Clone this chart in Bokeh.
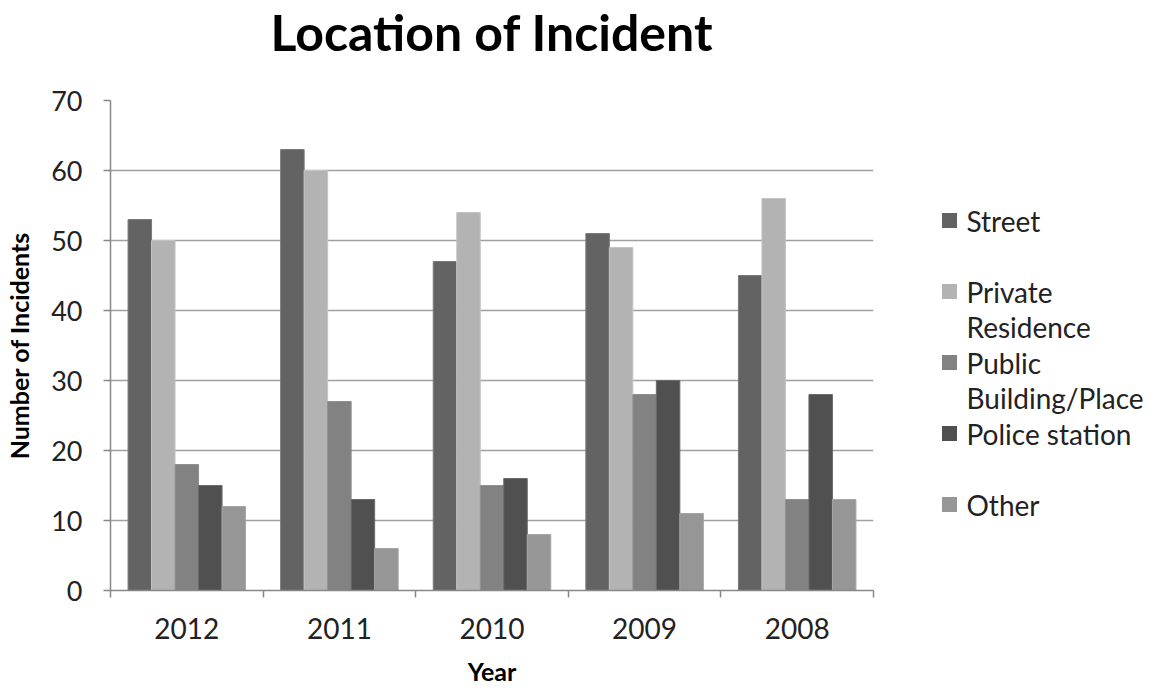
from bokeh.plotting import figure
from bokeh.models import FixedTicker, Range1d, ColumnDataSource
from bokeh.layouts import row, column
from bokeh.embed import file_html
from bokeh.resources import INLINE
from bokeh.core.properties import value

years = ["2012", "2011", "2010", "2009", "2008"]
series = ["Street", "Private\nResidence", "Public\nBuilding/Place", "Police station", "Other"]
street = [53, 63, 47, 51, 45]
private_res = [50, 60, 54, 49, 56]
public_bld = [18, 27, 15, 28, 13]
police = [15, 13, 16, 30, 28]
other = [12, 6, 8, 11, 13]
colors = ["#636363", "#b3b3b3", "#828282", "#505050", "#969696"]
edges = ["#7a7a7a", "#c4c4c4", "#909090", "#6a6a6a", "#a6a6a6"]
y_ticks = [0, 10, 20, 30, 40, 50, 60, 70]
title_text = "Location of Incident"

FONT = "Lato"
all_vals = [street, private_res, public_bld, police, other]

# title strip (page y 0..TH)
TH = 76
tf = figure(width=1161, height=TH, output_backend="svg", toolbar_location=None,
            x_range=Range1d(0, 1161), y_range=Range1d(TH, 0), min_border=0)
tf.axis.visible = False
tf.grid.visible = False
tf.outline_line_color = None
tf.text(x=[491.5], y=[31], text=[title_text], text_font=value(FONT), text_font_size="50px",
        text_font_style="bold", text_color="#000000", text_align="center", text_baseline="middle")

H = 690 - TH
TOP = 100 - TH
BOT = 690 - 590
p = figure(width=890, height=H, output_backend="svg", toolbar_location=None,
           x_range=Range1d(0, len(years)), y_range=Range1d(0, 70),
           min_border_left=110, min_border_right=17, min_border_top=TOP, min_border_bottom=BOT)
p.outline_line_color = None

bw = 0.154
n = len(series)
for i, vals in enumerate(all_vals):
    off = (i - (n - 1) / 2) * bw
    src = ColumnDataSource(dict(x=[k + 0.5 + off for k in range(len(years))], top=vals))
    p.vbar(x="x", top="top", width=bw, bottom=0, source=src,
           fill_color=colors[i], line_color=edges[i], line_width=1)

# axes
p.xaxis.ticker = FixedTicker(ticks=[k + 0.5 for k in range(len(years))],
                             minor_ticks=list(range(len(years) + 1)))
p.xaxis.major_label_overrides = {k + 0.5: y for k, y in enumerate(years)}
p.xaxis.major_tick_out = 0
p.xaxis.major_tick_in = 0
p.xaxis.minor_tick_out = 7
p.xaxis.minor_tick_in = 0
p.xaxis.minor_tick_line_color = "#888888"
p.xaxis.minor_tick_line_width = 1.5
p.xaxis.axis_label = "Year"
p.xaxis.major_label_standoff = 20

p.yaxis.ticker = FixedTicker(ticks=y_ticks)
p.yaxis.major_tick_out = 7
p.yaxis.major_tick_in = 0
p.yaxis.minor_tick_line_color = None
p.yaxis.axis_label = "Number of Incidents"
p.yaxis.major_label_standoff = 21

for ax in [p.xaxis[0], p.yaxis[0]]:
    ax.axis_line_color = "#888888"
    ax.axis_line_width = 1.5
    ax.major_tick_line_color = "#888888"
    ax.major_tick_line_width = 1.5
    ax.major_label_text_font = FONT
    ax.major_label_text_font_size = "28px"
    ax.major_label_text_color = "#222222"
    ax.axis_label_text_font = FONT
    ax.axis_label_text_font_size = "25px"
    ax.axis_label_text_font_style = "bold"
    ax.axis_label_text_color = "#000000"
p.yaxis.major_label_text_font_size = "27px"
p.xaxis.axis_label_standoff = 14
p.yaxis.axis_label_standoff = 14

p.xgrid.grid_line_color = None
p.ygrid.grid_line_color = "#a0a0a0"
p.ygrid.grid_line_width = 1.5

# legend panel: a separate figure whose frame spans page y 100..590
lg = figure(width=271, height=H, output_backend="svg", toolbar_location=None,
            x_range=Range1d(890, 890 + 271), y_range=Range1d(590, 100),
            min_border_left=0, min_border_right=0, min_border_top=TOP, min_border_bottom=BOT)
lg.axis.visible = False
lg.grid.visible = False
lg.outline_line_color = None
spacing = 71
y0 = 220
ys = [y0 + i * spacing for i in range(n)]
lg.rect(x=[949] * n, y=ys, width=15, height=15, fill_color=colors, line_color=None)
first = [s.split("\n")[0] for s in series]
lg.text(x=[966] * n, y=ys, text=first, text_font=value(FONT), text_font_size="28px",
        text_baseline="middle", text_align="left", text_color="#222222")
sec_y = [ys[i] + 35 for i, s in enumerate(series) if "\n" in s]
sec_t = [s.split("\n")[1] for s in series if "\n" in s]
lg.text(x=[966] * len(sec_t), y=sec_y, text=sec_t, text_font=value(FONT), text_font_size="28px",
        text_baseline="middle", text_align="left", text_color="#222222")

layout = column(tf, row(p, lg))
open("out.html", "w").write(file_html(layout, INLINE))
